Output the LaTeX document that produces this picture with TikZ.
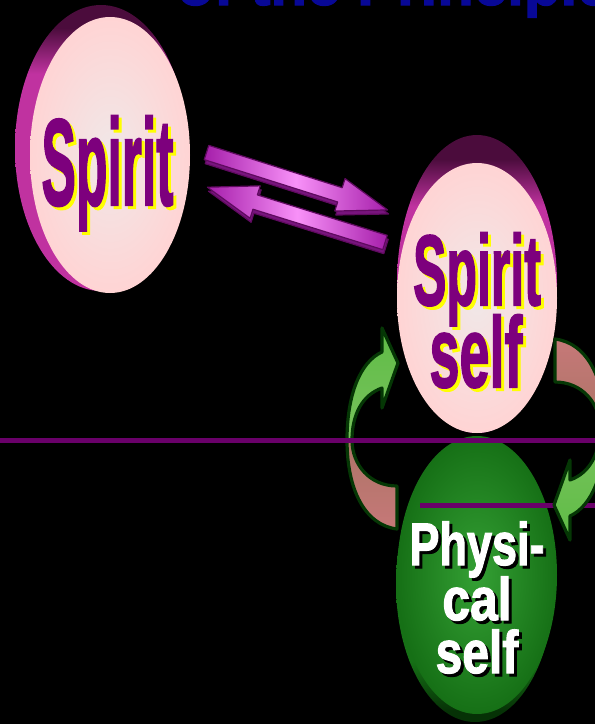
\documentclass[tikz,border=0pt]{standalone}
\usepackage{fontspec}
\setmainfont{Liberation Sans}
\newfontface\heavyface[FakeBold=2]{Liberation Sans Bold}
\usetikzlibrary{shapes.geometric}
\definecolor{titleblue}{RGB}{8,8,150}
\definecolor{spiritpurple}{RGB}{125,0,125}
\definecolor{shadowyellow}{RGB}{255,255,0}
\definecolor{facepink}{RGB}{255,212,212}
\definecolor{facecenter}{RGB}{240,232,232}
\definecolor{rimmag}{RGB}{192,50,160}
\definecolor{rimdark}{RGB}{75,12,60}
\definecolor{linepurple}{RGB}{105,0,105}
\definecolor{greenface}{RGB}{22,112,22}
\definecolor{greencenter}{RGB}{52,160,52}
\definecolor{greenrim}{RGB}{6,50,6}
\definecolor{arrowdark}{RGB}{165,30,170}
\definecolor{arrowlight}{RGB}{248,145,248}
\definecolor{arrowline}{RGB}{95,10,95}
\definecolor{arrowside}{RGB}{120,20,125}
\definecolor{cgreenA}{RGB}{95,188,70}
\definecolor{cgreenB}{RGB}{140,200,110}
\definecolor{cbrownA}{RGB}{140,112,80}
\definecolor{cbrownB}{RGB}{198,120,120}
\definecolor{coutline}{RGB}{5,55,5}
% TikZ fits the path box onto 25bp..75bp of the shading
\pgfdeclareverticalshading{rimshade}{100bp}{color(0bp)=(rimmag); color(63bp)=(rimmag); color(71bp)=(rimdark); color(100bp)=(rimdark)}
\pgfdeclareverticalshading{greenrimshade}{100bp}{color(0bp)=(greenrim); color(27bp)=(greenrim); color(36bp)=(greenface); color(100bp)=(greenface)}
% shadow text: #1 shadow colour, #2 text colour, #3 xscale, #4 offset, #5 text
\newcommand{\shadowtxt}[5]{\makebox[0pt][l]{\kern#4\raisebox{-#4}{\textcolor{#1}{\scalebox{#3}[1]{#5}}}}\textcolor{#2}{\scalebox{#3}[1]{#5}}}
\newcommand{\blockarrow}[1]{(0,-7.5) -- ({#1-50},-7.5) -- ({#1-50},-17) -- (#1,0) -- ({#1-50},17) -- ({#1-50},7.5) -- (0,7.5) -- cycle}
\newcommand{\carrowpath}[1]{({#1*(-79)},{#1*95}) -- ({#1*(-79)},{#1*52}) .. controls ({#1*(-106)},{#1*52}) and ({#1*(-124)},{#1*31}) .. ({#1*(-124)},{#1*6}) .. controls ({#1*(-124)},{#1*(-19)}) and ({#1*(-114)},{#1*(-39)}) .. ({#1*(-94)},{#1*(-46)}) -- ({#1*(-94)},{#1*(-26)}) -- ({#1*(-78)},{#1*(-71)}) -- ({#1*(-94)},{#1*(-106)}) -- ({#1*(-94)},{#1*(-82)}) .. controls ({#1*(-116)},{#1*(-72)}) and ({#1*(-129)},{#1*(-39)}) .. ({#1*(-129)},{#1*6}) .. controls ({#1*(-129)},{#1*56}) and ({#1*(-111)},{#1*91}) .. cycle}
\begin{document}
\begin{tikzpicture}[x=1pt,y=-1pt,
  facenode/.style={ellipse, inner sep=0pt, draw=none},
  txt/.style={inner sep=0pt, anchor=base},
  spiritfont/.style={font=\fontsize{#1}{#1}\selectfont\heavyface},
  blockface/.style={left color=arrowdark, right color=arrowdark, middle color=arrowlight, draw=arrowline, line width=1.2pt, line join=round},
  blockside/.style={fill=arrowside, draw=arrowline, line width=1.2pt, line join=round},
  coutl/.style={draw=coutline, line width=3.2pt, line join=round},
  sepline/.style={draw=linepurple, line width=5pt}]
\useasboundingbox (0,0) rectangle (595,724);
\clip (0,0) rectangle (595,724);
\fill[black] (0,0) rectangle (595,724);

% title (cut off at top)
\node[anchor=base west, inner sep=0pt, text=titleblue, font=\fontsize{60}{60}\selectfont\heavyface] (title) at (177,5) {of the Principle};

% left disc "Spirit"
\shade[shading=rimshade] (101,148) ellipse [x radius=86, y radius=143];
\node[facenode, minimum width=160pt, minimum height=276pt, inner color=facecenter, outer color=facepink] (spirit) at (110,155) {};
\node[txt, spiritfont=123] (spirittxt) at (107.5,205) {\shadowtxt{shadowyellow}{spiritpurple}{0.42}{3pt}{Spirit}};

% block arrows
\begin{scope}[shift={(207.5,156.5)}, rotate=-17.6]
  \path[blockside] \blockarrow{190};
\end{scope}
\begin{scope}[shift={(206.5,152.5)}, rotate=-17.6]
  \shade[blockface] \blockarrow{190};
\end{scope}
\begin{scope}[shift={(386,246.5)}, rotate=162.7]
  \path[blockside] \blockarrow{186};
\end{scope}
\begin{scope}[shift={(385,242.5)}, rotate=162.7]
  \shade[blockface] \blockarrow{186};
\end{scope}

% right disc "Spirit self"
\shade[shading=rimshade] (477,284) ellipse [x radius=80, y radius=149];
\node[facenode, minimum width=160pt, minimum height=270pt, inner color=facecenter, outer color=facepink] (spiritself) at (477,298) {};
\node[txt, spiritfont=100] (sstxt1) at (477,305) {\shadowtxt{shadowyellow}{spiritpurple}{0.5}{3pt}{Spirit}};
\node[txt, spiritfont=100] (sstxt2) at (476,387) {\shadowtxt{shadowyellow}{spiritpurple}{0.54}{3pt}{self}};

% green disc "Physical self"
\shade[shading=greenrimshade] (475,584) ellipse [x radius=79, y radius=138];
\node[facenode, minimum width=160pt, minimum height=278pt, inner color=greencenter, outer color=greenface] (physical) at (477,575) {};
\coordinate (l2a) at (420,505);
\coordinate (l2b) at (600,505);
\path[sepline] (l2a) -- (l2b);
\node[txt, spiritfont=60] (ptxt1) at (477,565) {\shadowtxt{black}{white}{0.75}{3pt}{Physi-}};
\node[txt, spiritfont=60] (ptxt2) at (477,620) {\shadowtxt{black}{white}{0.83}{3pt}{cal}};
\node[txt, spiritfont=60] (ptxt3) at (477,673) {\shadowtxt{black}{white}{0.8}{3pt}{self}};

% circular arrows
\begin{scope}[shift={(476,434)}]
  \shade[top color=cbrownA, bottom color=cbrownB] \carrowpath{1};
  \begin{scope}
    \clip (-200,-200) rectangle (200,6);
    \shade[top color=cgreenA, bottom color=cgreenB] \carrowpath{1};
  \end{scope}
  \path[coutl] \carrowpath{1};
  \shade[top color=cbrownB, bottom color=cbrownA] \carrowpath{-1};
  \begin{scope}
    \clip (-200,-6) rectangle (200,200);
    \shade[top color=cgreenB, bottom color=cgreenA] \carrowpath{-1};
  \end{scope}
  \path[coutl] \carrowpath{-1};
\end{scope}

% separating line
\coordinate (l1a) at (-5,440);
\coordinate (l1b) at (600,440);
\path[sepline] (l1a) -- (l1b);
\end{tikzpicture}
\end{document}
